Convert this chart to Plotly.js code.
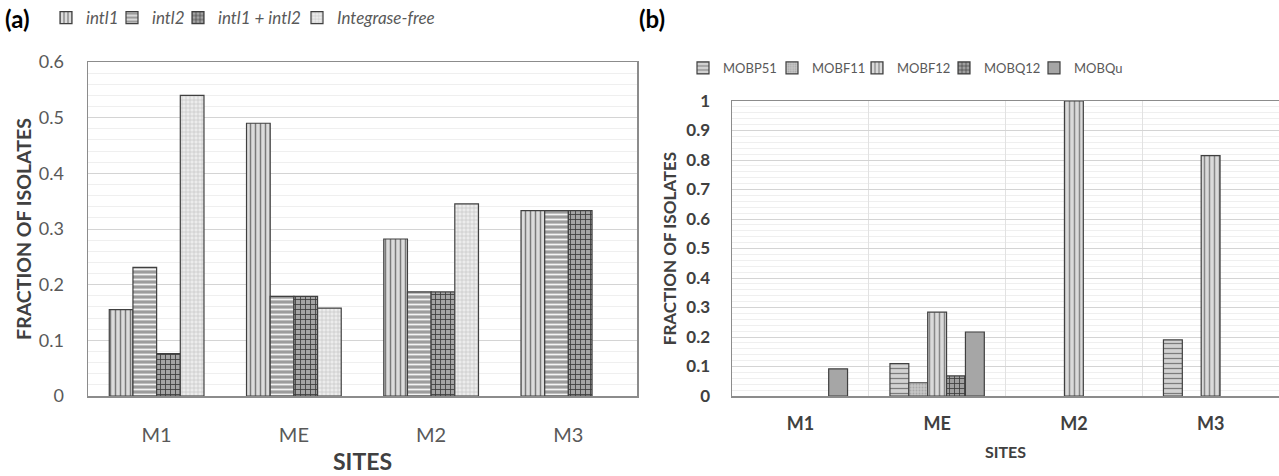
<!DOCTYPE html>
<html>
<head>
<meta charset="utf-8">
<script src="https://cdn.plot.ly/plotly-3.0.1.min.js"></script>
<style>
html,body{margin:0;padding:0;background:#fff;}
#chart{width:1279px;height:476px;}
</style>
</head>
<body>
<div id="chart"></div>
<script>
// ---- data ----
const sites = ["M1", "ME", "M2", "M3"];

// panel (a): integrase genes
const seriesA = ["intl1", "intl2", "intl1 + intl2", "Integrase-free"];
const intl1 = [0.155, 0.49, 0.282, 0.333];
const intl2 = [0.231, 0.179, 0.187, 0.333];
const intl1_intl2 = [0.076, 0.179, 0.187, 0.333];
const integraseFree = [0.54, 0.158, 0.345, 0];

// panel (b): MOB types
const seriesB = ["MOBP51", "MOBF11", "MOBF12", "MOBQ12", "MOBQu"];
const MOBP51 = [0, 0.11, 0, 0.19];
const MOBF11 = [0, 0.045, 0, 0];
const MOBF12 = [0, 0.284, 1.0, 0.815];
const MOBQ12 = [0, 0.068, 0, 0];
const MOBQu = [0.092, 0.217, 0, 0];

const yTicksA = [0, 0.1, 0.2, 0.3, 0.4, 0.5, 0.6];
const yTicksB = [0, 0.1, 0.2, 0.3, 0.4, 0.5, 0.6, 0.7, 0.8, 0.9, 1];

// ---- styles ----
const FONT = "Lato, 'Open Sans', sans-serif";
const edge = {color: "#404040", width: 1.2};
const stylesA = [
  {color: "#d4d4d4", pattern: {shape: "|", bgcolor: "#dcdcdc", fgcolor: "#7a7a7a", size: 5, solidity: 0.3}},
  {color: "#a8a8a8", pattern: {shape: "-", bgcolor: "#9c9c9c", fgcolor: "#f4f4f4", size: 5, solidity: 0.35}},
  {color: "#8a8a8a", pattern: {shape: "+", bgcolor: "#a4a4a4", fgcolor: "#3a3a3a", size: 5, solidity: 0.3}},
  {color: "#e6e6e6", pattern: {shape: "+", bgcolor: "#ececec", fgcolor: "#c4c4c4", size: 4, solidity: 0.3}}
];
const stylesB = [
  {color: "#c8c8c8", pattern: {shape: "-", bgcolor: "#d2d2d2", fgcolor: "#7c7c7c", size: 5, solidity: 0.25}},
  {color: "#c4c4c4", pattern: {shape: ".", bgcolor: "#c6c6c6", fgcolor: "#a8a8a8", size: 3, solidity: 0.3}},
  {color: "#d4d4d4", pattern: {shape: "|", bgcolor: "#dadada", fgcolor: "#888888", size: 5, solidity: 0.3}},
  {color: "#8c8c8c", pattern: {shape: "+", bgcolor: "#a0a0a0", fgcolor: "#3c3c3c", size: 5, solidity: 0.3}},
  {color: "#a6a6a6"}
];

const valsA = [intl1, intl2, intl1_intl2, integraseFree];
const valsB = [MOBP51, MOBF11, MOBF12, MOBQ12, MOBQu];
const hideZero = arr => arr.map(v => (v === 0 ? null : v));

const W = 1279, H = 476;
const mT = 62, mB = 80;
const plotH = H - mT - mB;
const py = p => (H - mB - p) / plotH; // pixel y -> paper y

// left edge (pixels) of each single-entry legend box
const legendBoxA = [46, 112, 178, 297];
const legendBoxB = [683, 772, 857, 944, 1034];

const traces = [];
const legends = {};
let li = 1;
const legendKey = n => (n === 1 ? "legend" : "legend" + n);

seriesA.forEach((name, i) => {
  const key = legendKey(li++);
  legends[key] = {
    x: legendBoxA[i] / W, xanchor: "left", y: py(18), yanchor: "middle",
    font: {size: 17, style: "italic", color: "#595959"},
    bgcolor: "rgba(0,0,0,0)", itemclick: false, itemdoubleclick: false
  };
  traces.push({
    type: "bar", name: name, x: sites, y: hideZero(valsA[i]),
    xaxis: "x", yaxis: "y", legend: key,
    marker: Object.assign({line: edge}, stylesA[i]),
    hoverinfo: "x+y+name"
  });
});
seriesB.forEach((name, i) => {
  const key = legendKey(li++);
  legends[key] = {
    x: legendBoxB[i] / W, xanchor: "left", y: py(68), yanchor: "middle",
    font: {size: 13, color: "#595959"},
    bgcolor: "rgba(0,0,0,0)", itemclick: false, itemdoubleclick: false
  };
  traces.push({
    type: "bar", name: name, x: sites, y: hideZero(valsB[i]),
    xaxis: "x2", yaxis: "y2", legend: key,
    marker: Object.assign({line: edge}, stylesB[i]),
    hoverinfo: "x+y+name"
  });
});

const layout = Object.assign({
  width: W, height: H,
  margin: {l: 0, r: 0, t: mT, b: mB},
  paper_bgcolor: "#ffffff",
  plot_bgcolor: "#ffffff",
  font: {family: FONT, color: "#595959", size: 15},
  barmode: "group",
  bargap: 0.31,
  bargroupgap: 0,
  showlegend: true,
  xaxis: {
    domain: [88 / W, 637 / W], anchor: "y",
    type: "category", categoryarray: sites,
    showgrid: false, zeroline: false,
    ticks: "outside", ticklen: 20, tickcolor: "rgba(0,0,0,0)",
    showline: true, mirror: true, linecolor: "#8c8c8c", linewidth: 1.5,
    tickfont: {size: 20, color: "#595959"},
    title: {text: "SITES", font: {size: 23, weight: "bold", color: "#404040"}, standoff: 9}
  },
  yaxis: {
    domain: [0, 1], anchor: "x",
    range: [0, 0.6], tickvals: yTicksA, ticktext: yTicksA.map(String),
    showgrid: true, gridcolor: "#d4d4d4", gridwidth: 1,
    minor: {dtick: 0.02, showgrid: true, gridcolor: "#efefef", gridwidth: 1},
    zeroline: false,
    showline: true, mirror: true, linecolor: "#8c8c8c", linewidth: 1.5,
    ticks: "outside", ticklen: 19, tickcolor: "rgba(0,0,0,0)",
    tickfont: {size: 18, color: "#595959"},
    title: {text: "FRACTION OF ISOLATES", font: {size: 19.5, weight: "bold", color: "#404040"}, standoff: 2}
  },
  xaxis2: {
    domain: [732 / W, 1], anchor: "y2",
    type: "category", categoryarray: sites,
    range: [-0.5, 3.5],
    showgrid: true, gridcolor: "#e2e2e2", tickson: "boundaries",
    ticks: "", ticklabelstandoff: 11,
    zeroline: false,
    showline: true, mirror: true, linecolor: "#8c8c8c", linewidth: 1.5,
    tickfont: {size: 18, weight: "bold", color: "#404040"},
    title: {text: "SITES", font: {size: 16, weight: "bold", color: "#404040"}, standoff: 13}
  },
  yaxis2: {
    domain: [0, py(101)], anchor: "x2",
    range: [0, 1], tickvals: yTicksB, ticktext: yTicksB.map(String),
    showgrid: true, gridcolor: "#d4d4d4", gridwidth: 1,
    minor: {dtick: 0.02, showgrid: true, gridcolor: "#efefef", gridwidth: 1},
    zeroline: false,
    showline: true, mirror: true, linecolor: "#8c8c8c", linewidth: 1.5,
    ticks: "outside", ticklen: 17, tickcolor: "rgba(0,0,0,0)",
    tickfont: {size: 17, weight: "bold", color: "#404040"},
    title: {text: "FRACTION OF ISOLATES", font: {size: 17, weight: "bold", color: "#404040"}, standoff: 5}
  },
  annotations: [
    {text: "(a)", xref: "paper", yref: "paper", x: 3 / W, y: py(18), xanchor: "left", yanchor: "middle",
     showarrow: false, font: {size: 24, weight: "bold", color: "#000000"}},
    {text: "(b)", xref: "paper", yref: "paper", x: 637 / W, y: py(18), xanchor: "left", yanchor: "middle",
     showarrow: false, font: {size: 24, weight: "bold", color: "#000000"}}
  ]
}, legends);

Plotly.newPlot("chart", traces, layout, {displayModeBar: false, staticPlot: true});
</script>
</body>
</html>
